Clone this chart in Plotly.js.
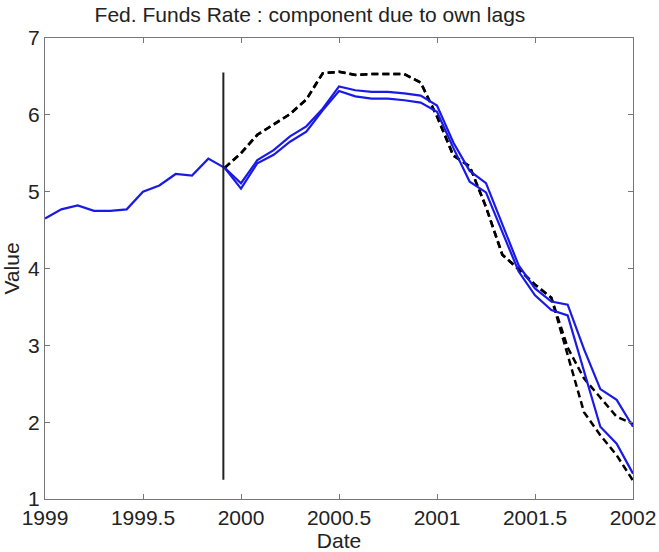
<!DOCTYPE html>
<html>
<head>
<meta charset="utf-8">
<script src="https://cdn.plot.ly/plotly-3.0.1.min.js"></script>
<style>html,body{margin:0;padding:0;background:#fff;}#chart{width:659px;height:552px;}</style>
</head>
<body>
<div id="chart"></div>
<script>
// Monthly dates (decimal years)
const histDates = [1999.0, 1999.0833, 1999.1667, 1999.25, 1999.3333, 1999.4167, 1999.5, 1999.5833, 1999.6667, 1999.75, 1999.8333, 1999.9167];
const histValues = [4.65, 4.77, 4.82, 4.75, 4.75, 4.77, 5.00, 5.08, 5.23, 5.21, 5.43, 5.31];

const fcDates = [1999.9167, 2000.0, 2000.0833, 2000.1667, 2000.25, 2000.3333, 2000.4167, 2000.5, 2000.5833, 2000.6667, 2000.75, 2000.8333, 2000.9167,
                 2001.0, 2001.0833, 2001.1667, 2001.25, 2001.3333, 2001.4167, 2001.5, 2001.5833, 2001.6667, 2001.75, 2001.8333, 2001.9167, 2002.0];

const ownLagsUpper = [5.31, 5.11, 5.41, 5.54, 5.72, 5.85, 6.08, 6.37, 6.32, 6.30, 6.30, 6.28, 6.25,
                      6.12, 5.64, 5.27, 5.11, 4.58, 4.04, 3.74, 3.57, 3.53, 2.95, 2.43, 2.29, 1.94];
const ownLagsLower = [5.31, 5.04, 5.37, 5.48, 5.65, 5.78, 6.06, 6.31, 6.24, 6.21, 6.21, 6.19, 6.16,
                      6.04, 5.57, 5.13, 4.99, 4.48, 3.96, 3.65, 3.46, 3.39, 2.67, 1.94, 1.72, 1.33];
const actualA = [5.31, 5.50, 5.74, 5.88, 6.01, 6.20, 6.54, 6.56, 6.52, 6.53, 6.53, 6.53, 6.42,
                 5.98, 5.47, 5.33, 4.80, 4.18, 3.99, 3.79, 3.62, 2.97, 2.57, 2.32, 2.07, 1.98];
const actualB = [5.31, 5.50, 5.74, 5.88, 6.01, 6.20, 6.54, 6.56, 6.52, 6.53, 6.53, 6.53, 6.42,
                 5.98, 5.47, 5.33, 4.80, 4.18, 3.99, 3.79, 3.62, 2.87, 2.13, 1.83, 1.57, 1.24];

const markerDate = [1999.91, 1999.91];
const markerRange = [6.55, 1.25];

const xTicks = [1999, 1999.5, 2000, 2000.5, 2001, 2001.5, 2002];
const xTickText = ['1999', '1999.5', '2000', '2000.5', '2001', '2001.5', '2002'];
const yTicks = [1, 2, 3, 4, 5, 6, 7];

const blue = '#1a1ae6';
const traces = [
  {x: fcDates, y: actualA, mode: 'lines', line: {color: '#000', width: 2.5, dash: '7px,4px'}},
  {x: fcDates, y: actualB, mode: 'lines', line: {color: '#000', width: 2.5, dash: '7px,4px'}},
  {x: histDates, y: histValues, mode: 'lines', line: {color: blue, width: 2.2}},
  {x: fcDates, y: ownLagsUpper, mode: 'lines', line: {color: blue, width: 2.2}},
  {x: fcDates, y: ownLagsLower, mode: 'lines', line: {color: blue, width: 2.2}},
  {x: markerDate, y: markerRange, mode: 'lines', line: {color: '#222', width: 2}}
];

const font = {family: 'Liberation Sans, Arial, sans-serif', size: 21, color: '#222'};
const layout = {
  width: 659, height: 552,
  margin: {l: 45, r: 26, t: 38, b: 53},
  paper_bgcolor: '#fff', plot_bgcolor: '#fff',
  showlegend: false,
  font: font,
  title: {text: 'Fed. Funds Rate : component due to own lags', font: {family: font.family, size: 21, color: '#222'},
          x: 310/659, xref: 'container', xanchor: 'center', y: 1 - 15/552, yref: 'container', yanchor: 'middle'},
  xaxis: {range: [1999, 2002], tickvals: xTicks, ticktext: xTickText, ticks: 'inside', ticklen: 5, tickcolor: '#777',
          showline: true, linecolor: '#777', linewidth: 1, mirror: 'ticks', showgrid: false, zeroline: false,
          tickfont: {size: 21}, title: {text: 'Date', font: {size: 21}, standoff: 2}},
  yaxis: {range: [1, 7], tickvals: yTicks, ticks: 'inside', ticklen: 5, tickcolor: '#777',
          showline: true, linecolor: '#777', linewidth: 1, mirror: 'ticks', showgrid: false, zeroline: false,
          tickfont: {size: 21}, title: {text: 'Value', font: {size: 21}, standoff: 4}}
};
Plotly.newPlot('chart', traces, layout, {displayModeBar: false, staticPlot: true});
</script>
</body>
</html>
